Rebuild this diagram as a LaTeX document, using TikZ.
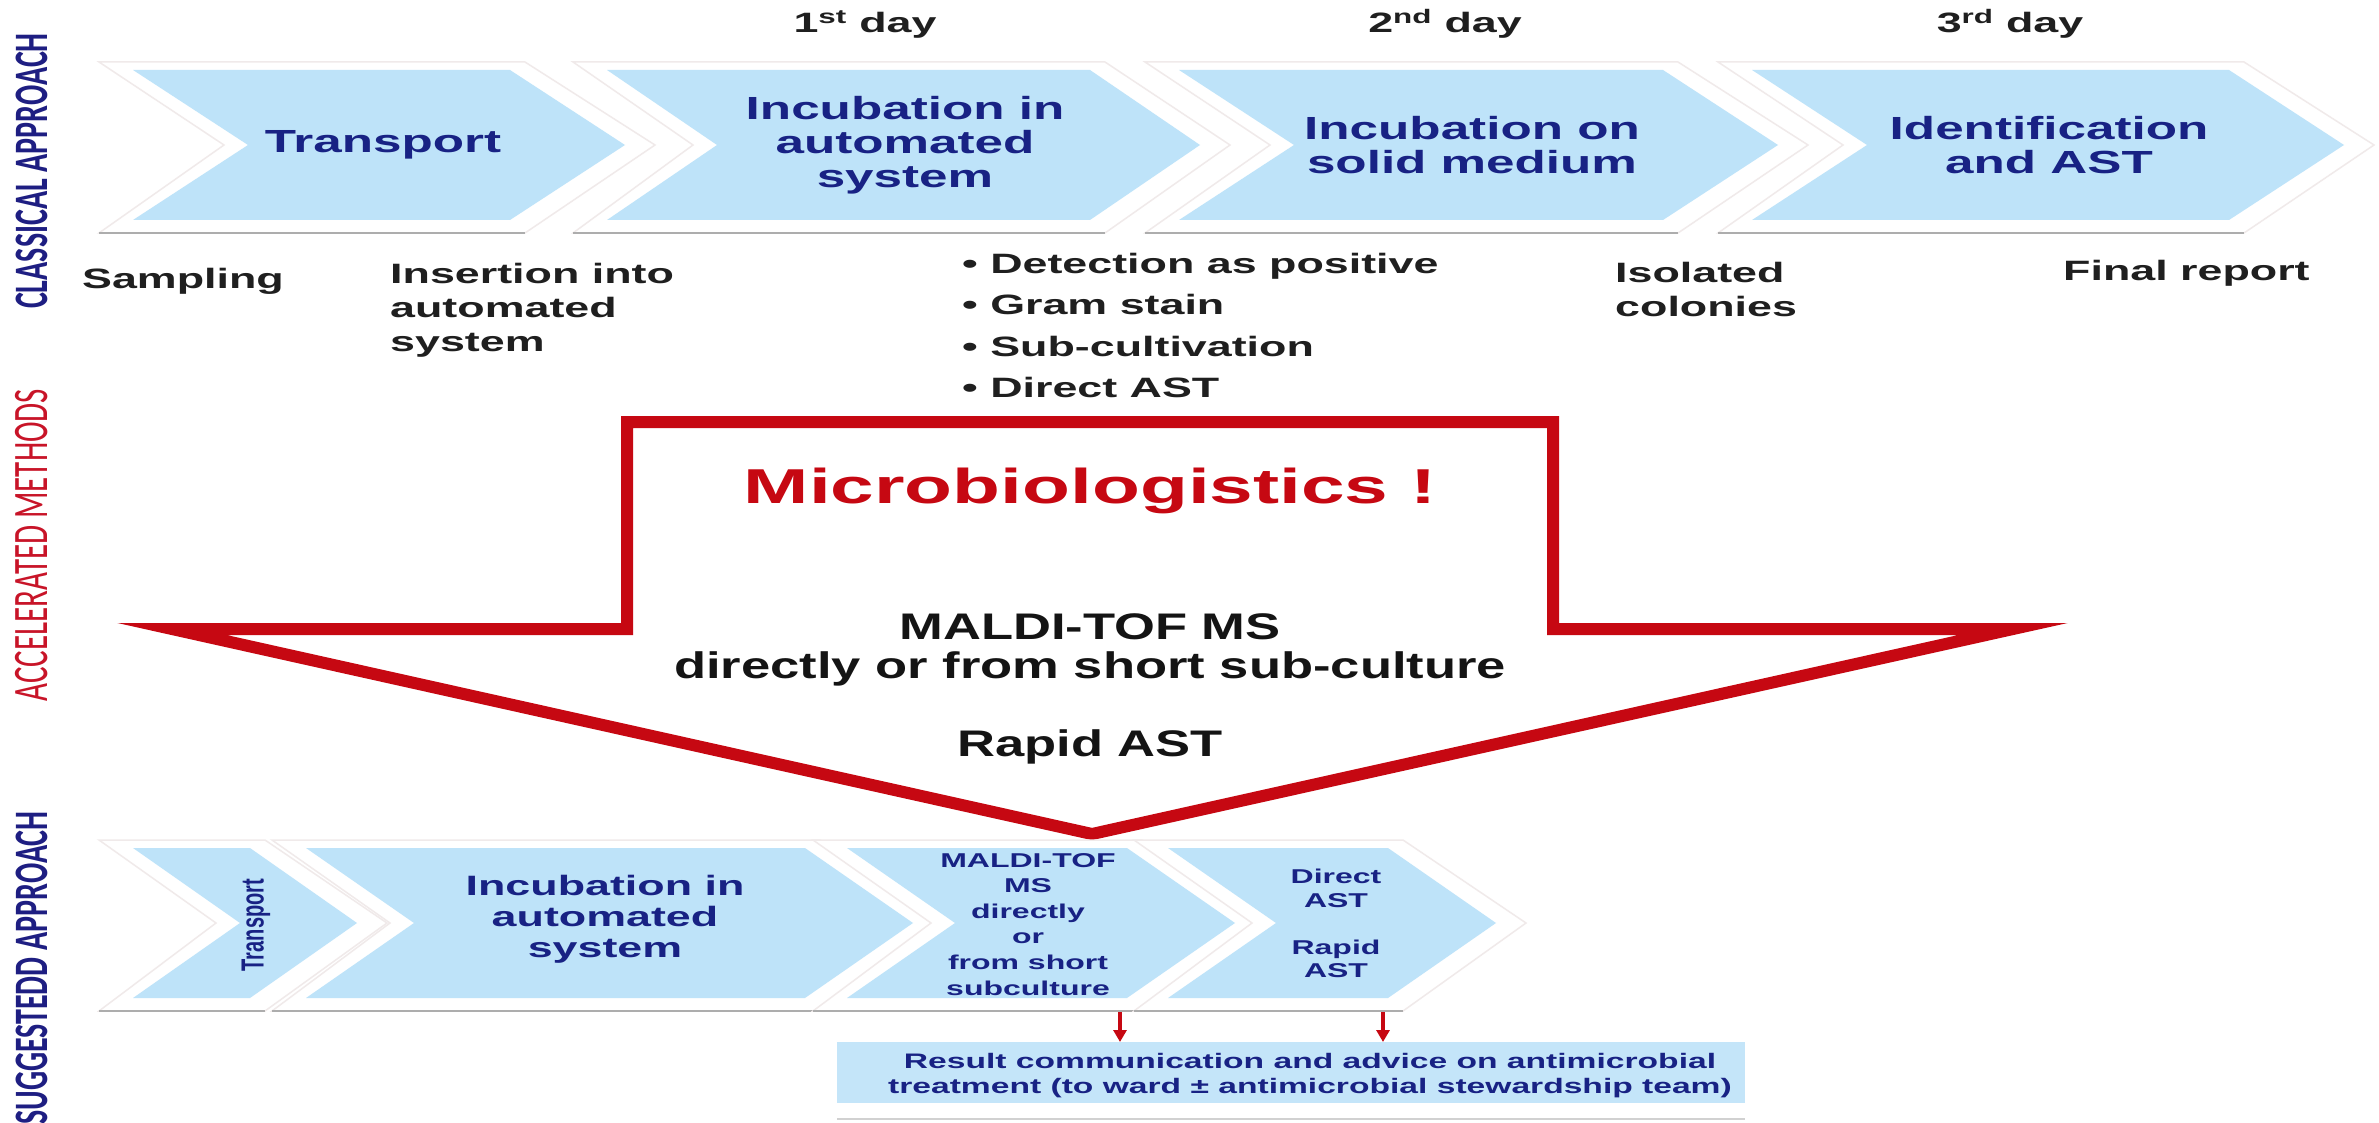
\documentclass[tikz,border=0pt]{standalone}
\usepackage{fontspec}
\usepackage{graphicx}
\usetikzlibrary{arrows.meta}
% wide sans for the horizontally stretched lettering
\newfontfamily\wsans{Liberation Sans}[FakeStretch=1.6]
\newfontfamily\msans{Liberation Sans}[FakeStretch=1.42]
\newfontfamily\nsans{Liberation Sans}
\newfontfamily\calib{Carlito}

\definecolor{chevblue}{RGB}{190,227,249}
\definecolor{boxblue}{RGB}{196,229,249}
\definecolor{navy}{RGB}{24,34,132}
\definecolor{labnavy}{RGB}{30,30,130}
\definecolor{arrred}{RGB}{198,8,18}
\definecolor{labred}{RGB}{200,20,40}
\definecolor{haloedge}{RGB}{240,234,234}

% blue step chevron: xL, xR, yTop, yBottom, depth
\newcommand{\ChevFill}[5]{%
  \fill[chevblue] (#1,#3) -- (#2,#3) -- ({#2+#5},{(#3+#4)/2}) -- (#2,#4)
    -- (#1,#4) -- ({#1+#5},{(#3+#4)/2}) -- cycle;}
% white plate behind a chevron, with its grey bottom shadow
\newcommand{\HaloFill}[5]{%
  \filldraw[halo] ({#1-34},{#3-8}) -- ({#2+15},{#3-8}) -- ({#2+#5+30},{(#3+#4)/2})
    -- ({#2+15},{#4+13}) -- ({#1-34},{#4+13}) -- ({#1+#5-24},{(#3+#4)/2}) -- cycle;
  \draw[shadowline] ({#1-34},{#4+13}) -- ({#2+15},{#4+13});}

\tikzset{
  halo/.style={fill=white, draw=haloedge, line width=1.5},
  shadowline/.style={draw=black!32, line width=2.5},
  ttl/.style={font={\wsans\bfseries\fontsize{32}{34}\selectfont}, text=navy, align=center, inner sep=0},
  sttl/.style={font={\wsans\bfseries\fontsize{28}{31}\selectfont}, text=navy, align=center, inner sep=0},
  tiny/.style={font={\wsans\bfseries\fontsize{20}{25.6}\selectfont}, text=navy, align=center, inner sep=0},
  lbl/.style={font={\wsans\bfseries\fontsize{28}{34}\selectfont}, text=black!88, align=left, inner sep=0},
  day/.style={font={\wsans\bfseries\fontsize{28}{34}\selectfont}, text=black!88, inner sep=0, anchor=base},
  arrtxt/.style={font={\msans\bfseries\fontsize{37}{40}\selectfont}, text=black!92, inner sep=0, anchor=base},
  redframe/.style={draw=arrred, fill=white, line width=12, line join=miter, miter limit=20},
  smallarr/.style={draw=arrred, line width=3.5, -{Triangle[width=13,length=12]}},
}

\begin{document}
\begin{tikzpicture}[x=1pt, y=-1pt]
\useasboundingbox (0,0) rectangle (2379,1123);
\fill[white] (0,0) rectangle (2379,1123);

% ---- section labels (vertical) ----
\node[inner sep=0, text=labnavy] (lclass) at (32,171)
  {\scalebox{1.6}[1]{\rotatebox{90}{\calib\bfseries\fontsize{30}{30}\selectfont CLASSICAL APPROACH}}};
\node[inner sep=0, text=labred] (laccel) at (32,545)
  {\scalebox{1.6}[1]{\rotatebox{90}{\calib\fontsize{31}{31}\selectfont ACCELERATED METHODS}}};
\node[inner sep=0, text=labnavy] (lsugg) at (32,968)
  {\scalebox{1.6}[1]{\rotatebox{90}{\calib\bfseries\fontsize{30}{30}\selectfont SUGGESTEDD APPROACH}}};

% ---- day headings ----
\node[day] (d1) at (865,33) {1\textsuperscript{st} day};
\node[day] (d2) at (1445,33) {2\textsuperscript{nd} day};
\node[day] (d3) at (2010,33) {3\textsuperscript{rd} day};

% ---- classical approach: step chevrons ----
\HaloFill{133}{510}{70}{220}{115}
\HaloFill{607}{1090}{70}{220}{110}
\HaloFill{1179}{1663}{70}{220}{115}
\HaloFill{1752}{2229}{70}{220}{115}
\ChevFill{133}{510}{70}{220}{115}
\ChevFill{607}{1090}{70}{220}{110}
\ChevFill{1179}{1663}{70}{220}{115}
\ChevFill{1752}{2229}{70}{220}{115}

\node[ttl] (c1) at (383,145) {Transport};
\node[ttl] (c2) at (905,145) {Incubation in\\automated\\system};
\node[ttl] (c3) at (1472,145) {Incubation on\\solid medium};
\node[ttl] (c4) at (2049,145) {Identification\\and AST};

% ---- classical approach: milestones ----
\node[lbl, anchor=base west] (s1) at (82,288) {Sampling};
\node[lbl, anchor=north west] (s2) at (390,263) {Insertion into\\automated\\system};
\node[lbl, anchor=north west, font={\wsans\bfseries\fontsize{28}{41.5}\selectfont}] (s3) at (962,253)
  {• Detection as positive\\• Gram stain\\• Sub-cultivation\\• Direct AST};
\node[lbl, anchor=north west] (s4) at (1615,262) {Isolated\\colonies};
\node[lbl, anchor=base west] (s5) at (2063,280) {Final report};

% ---- accelerated methods: big hollow arrow ----
\draw[redframe] (172,629) -- (627,629) -- (627,422) -- (1553,422) -- (1553,629)
  -- (2013,629) -- (1092,834) -- cycle;
\node[inner sep=0, anchor=base, text=arrred, font={\wsans\bfseries\fontsize{49}{55}\selectfont}] (micro) at (1090,503) {Microbiologistics !};
\node[arrtxt] (maldi) at (1090,639) {MALDI-TOF MS};
\node[arrtxt] (direct) at (1090,678) {directly or from short sub-culture};
\node[arrtxt] (rapid) at (1090,756) {Rapid AST};

% ---- suggested approach: step chevrons ----
\HaloFill{133}{250}{848}{998}{107}
\HaloFill{306}{805}{848}{998}{108}
\HaloFill{847}{1127}{848}{998}{108}
\HaloFill{1168}{1388}{848}{998}{108}
\ChevFill{133}{250}{848}{998}{107}
\ChevFill{306}{805}{848}{998}{108}
\ChevFill{847}{1127}{848}{998}{108}
\ChevFill{1168}{1388}{848}{998}{108}

\node[inner sep=0, text=navy] (b1) at (256,925)
  {\scalebox{1.6}[1]{\rotatebox{90}{\nsans\bfseries\fontsize{20}{20}\selectfont Transport}}};
\node[sttl, anchor=north] (b2) at (605,875) {Incubation in\\automated\\system};
\node[tiny, anchor=north] (b3) at (1028,853) {MALDI-TOF\\MS\\directly\\or\\from short\\subculture};
\node[tiny, anchor=north, font={\wsans\bfseries\fontsize{20}{23.5}\selectfont}] (b4) at (1336,869) {Direct\\AST\\[23.5pt]Rapid\\AST};

% ---- result communication ----
\node[fill=boxblue, inner sep=0, minimum width=908, minimum height=61, anchor=north west] (box) at (837,1042) {};
\draw[black!18, line width=2] (box.south west) ++(0,16) -- ++(908,0);
\node[inner sep=0, anchor=north, align=center, text=navy, font={\wsans\bfseries\fontsize{21}{25}\selectfont}] (boxtxt) at (1310,1053)
  {Result communication and advice on antimicrobial\\treatment (to ward ± antimicrobial stewardship team)};

\coordinate (m1) at (1120,1012);
\coordinate (m2) at (1383,1012);
\draw[smallarr] (m1) -- (m1 |- box.north);
\draw[smallarr] (m2) -- (m2 |- box.north);
\end{tikzpicture}
\end{document}
